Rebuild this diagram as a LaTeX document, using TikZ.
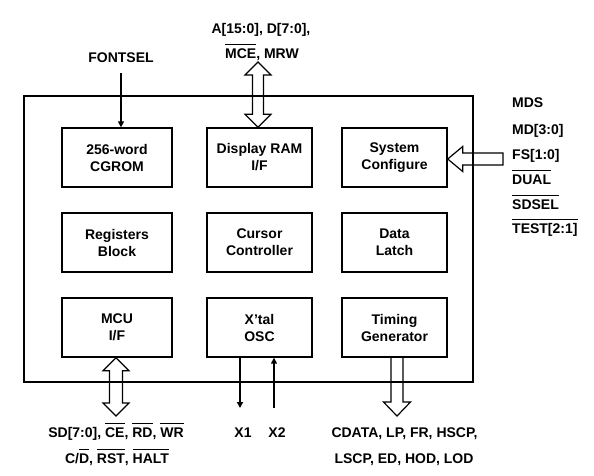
\documentclass[tikz,border=0pt]{standalone}
\usepackage{fontspec}
\setmainfont{Liberation Sans}
\usetikzlibrary{calc,arrows.meta}
\newcommand\ovl[1]{\leavevmode\vbox{\hrule height 0.9pt\kern 3pt\hbox{#1}}}
\tikzset{
  lbl/.style={font=\fontsize{14}{17}\selectfont\bfseries, inner sep=0pt, anchor=base},
  blk/.style={draw, line width=1.4pt, minimum height=59pt, align=center, inner sep=0pt,
              font=\fontsize{14}{17}\selectfont\bfseries},
  wide/.style={blk, minimum width=110pt},
  narrow/.style={blk, minimum width=105pt},
  hollow/.style={draw, line width=1.2pt, line join=miter},
  sig/.style={line width=2.6pt, -{Triangle[length=6pt,width=6pt]}}
}
\begin{document}
\begin{tikzpicture}[x=1pt,y=-1pt]
\useasboundingbox (0,0) rectangle (594,475);
% outer chip
\node[draw, line width=1.8pt, minimum width=449pt, minimum height=286pt, inner sep=0pt] (chip) at (248.5,239) {};
% blocks
\node[wide]   (cgrom) at (117,157.5)   {256-word\\CGROM};
\node[narrow] (ram)   at (259.5,157.5) {Display RAM\\I/F};
\node[narrow] (cfg)   at (394.5,157.5) {System\\Configure};
\node[wide]   (reg)   at (117,242.5)   {Registers\\Block};
\node[narrow] (cur)   at (259.5,242.5) {Cursor\\Controller};
\node[narrow] (latch) at (394.5,242.5) {Data\\Latch};
\node[wide]   (mcu)   at (117,327.5)   {MCU\\I/F};
\node[narrow] (osc)   at (259.5,327.5) {X'tal\\OSC};
\node[narrow] (tim)   at (394.5,327.5) {Timing\\Generator};
% labels
\node[lbl] (fontsel) at (121,62) {FONTSEL};
\node[lbl] (top1) at (261,33) {A[15:0], D[7:0],};
\node[lbl] (top2) at (262,58) {\ovl{MCE}, MRW};
\node[lbl, anchor=base west] (mds)  at (512,107) {MDS};
\node[lbl, anchor=base west] (md)   at (512,134) {MD[3:0]};
\node[lbl, anchor=base west] (fs)   at (512,159) {FS[1:0]};
\node[lbl, anchor=base west] (dual) at (512,184) {\ovl{DUAL}};
\node[lbl, anchor=base west] (sdsel) at (512,209) {\ovl{SDSEL}};
\node[lbl, anchor=base west] (test) at (512,233) {\ovl{TEST[2:1]}};
\node[lbl] (sd1) at (116,437) {SD[7:0], \ovl{CE}, \ovl{RD}, \ovl{WR}};
\node[lbl] (sd2) at (117,463) {C/\ovl{D}, \ovl{RST}, \ovl{HALT}};
\node[lbl] (x1) at (243,437) {X1};
\node[lbl] (x2) at (277,437) {X2};
\node[lbl] (cd1) at (404.5,437) {CDATA, LP, FR, HSCP,};
\node[lbl] (cd2) at (404,463) {LSCP, ED, HOD, LOD};
% FONTSEL arrow
\coordinate (fsrc) at (121,73);
\draw[sig] (fsrc) -- (fsrc |- cgrom.north);
% X1 / X2
\coordinate (x1end) at (240,408);
\coordinate (x2end) at (274,408);
\draw[sig] (x1end |- osc.south) -- (x1end);
\draw[sig] (x2end) -- (x2end |- osc.south);
% top double arrow
\coordinate (ta) at (258,62);
\coordinate (tb) at (ta |- ram.north);
\draw[hollow] (ta) -- ($(ta)+(13,13)$) -- ($(ta)+(5.5,13)$) -- ($(tb)+(5.5,-13)$) -- ($(tb)+(13,-13)$)
  -- (tb) -- ($(tb)+(-13,-13)$) -- ($(tb)+(-5.5,-13)$) -- ($(ta)+(-5.5,13)$) -- ($(ta)+(-13,13)$) -- cycle;
% bottom-left double arrow
\coordinate (bb) at (116,416);
\coordinate (ba) at (bb |- mcu.south);
\draw[hollow] (ba) -- ($(ba)+(13,13)$) -- ($(ba)+(6.5,13)$) -- ($(bb)+(6.5,-13)$) -- ($(bb)+(13,-13)$)
  -- (bb) -- ($(bb)+(-13,-13)$) -- ($(bb)+(-6.5,-13)$) -- ($(ba)+(-6.5,13)$) -- ($(ba)+(-13,13)$) -- cycle;
% bottom-right single arrow
\coordinate (cb) at (397,416);
\coordinate (ca) at (cb |- tim.south);
\draw[hollow] ($(ca)+(-6,0)$) -- ($(cb)+(-6,-14)$) -- ($(cb)+(-13.5,-14)$) -- (cb)
  -- ($(cb)+(13.5,-14)$) -- ($(cb)+(6,-14)$) -- ($(ca)+(6,0)$);
% right arrow into System Configure
\coordinate (ra) at (503,159);
\coordinate (rb) at (cfg.east |- ra);
\draw[hollow] (rb) -- ($(rb)+(15,-12.5)$) -- ($(rb)+(15,-6)$) -- ($(ra)+(0,-6)$) -- ($(ra)+(0,6)$)
  -- ($(rb)+(15,6)$) -- ($(rb)+(15,12.5)$) -- cycle;
\end{tikzpicture}
\end{document}
